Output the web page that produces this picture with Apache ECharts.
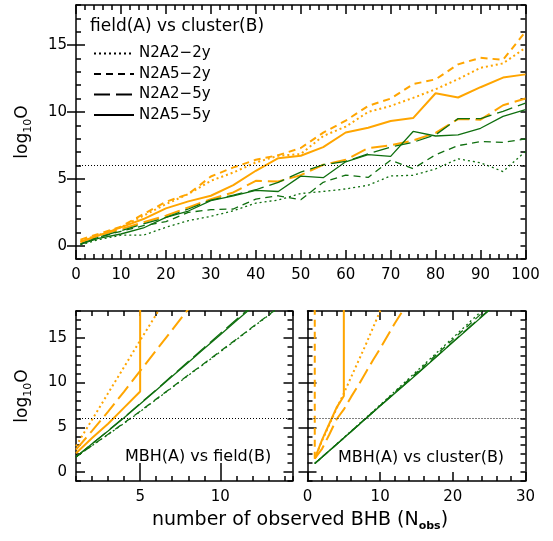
<!DOCTYPE html>
<html lang="en">
<head>
  <meta charset="UTF-8">
  <title>log10 O vs number of observed BHB</title>
  <script src="https://cdn.jsdelivr.net/npm/echarts@6/dist/echarts.min.js"></script>
  <style>html,body{margin:0;padding:0;background:#fff}</style>
</head>
<body>
  <div id="main" style="width:553px;height:541px"></div>
  <script>
    // ---- data ----
    // top panel: field(A) vs cluster(B)
    var fcX = [1,5,10,15,20,25,30,35,40,45,50,55,60,65,70,75,80,85,90,95,100];
    var fcOrange_N2A2_2y = [0.37,0.8,1.37,2.24,3.1,3.86,4.85,5.47,6.22,6.72,6.85,8.2,8.9,10.0,10.45,11.05,11.7,12.45,13.3,13.63,14.8];
    var fcOrange_N2A5_2y = [0.45,0.87,1.42,2.36,3.28,3.86,5.17,5.85,6.42,6.77,7.3,8.45,9.35,10.45,11.0,12.08,12.44,13.56,14.05,13.9,16.0];
    var fcOrange_N2A2_5y = [0.3,0.75,1.24,1.74,2.24,2.86,3.48,3.98,4.85,4.8,5.27,6.05,6.42,7.3,7.5,7.87,8.43,9.47,9.42,10.5,11.0];
    var fcOrange_N2A5_5y = [0.25,0.75,1.37,1.99,2.79,3.31,3.73,4.53,5.6,6.54,6.72,7.37,8.46,8.82,9.32,9.54,11.4,11.08,11.85,12.57,12.81];
    var fcGreen_N2A2_2y = [0.05,0.45,0.78,0.78,1.37,1.87,2.19,2.61,3.18,3.41,3.9,4.05,4.24,4.52,5.21,5.26,5.74,6.49,6.2,5.54,7.05];
    var fcGreen_N2A5_2y = [0.12,0.62,1.07,1.49,1.79,2.49,2.69,2.74,3.48,3.73,3.43,4.74,5.28,5.1,6.4,5.76,6.8,7.48,7.78,7.73,7.98];
    var fcGreen_N2A2_5y = [0.12,0.62,1.12,1.62,2.11,2.74,3.41,3.78,4.18,4.73,5.5,6.05,6.3,6.87,7.37,7.73,8.29,9.5,9.5,10.05,10.66];
    var fcGreen_N2A5_5y = [0.12,0.55,0.87,1.32,2.11,2.59,3.36,3.73,4.13,4.05,5.2,5.08,6.27,6.81,6.68,8.54,8.2,8.28,8.78,9.67,10.17];

    // bottom left: MBH(A) vs field(B)
    var mfX = [1,2,3,4,5,6,7,8,9,10,11,12,13,14];
    var mfJumpX = [1,2,3,4,5,5];
    var mfOrange_N2A2_2y = [2.9,5.85,8.8,11.75,14.7,17.6,20.6];
    var mfOrange_N2A2_5y = [2.5,4.6,6.75,9.0,11.3,13.6,15.9,18.2];
    var mfOrange_N2A5_5y = [2.1,3.8,5.4,7.2,9.0,19];
    var mfGreen_N2A2_2y = [1.69,2.95,4.2,5.45,6.75,8.1,9.45,10.8,12.1,13.45,14.8,16.15,17.5,18.85];
    var mfGreen_N2A5_2y = [1.69,2.97,4.22,5.5,6.8,8.15,9.5,10.85,12.15,13.5,14.85,16.2,17.55,18.9];
    var mfGreen_N2A2_5y = [1.69,3.15,4.62,6.12,7.65,9.2,10.78,12.35,13.92,15.5,17.05,18.6];
    var mfGreen_N2A5_5y = [1.69,3.15,4.6,6.08,7.6,9.15,10.7,12.25,13.8,15.35,16.9,18.45];

    // bottom right: MBH(A) vs cluster(B)
    var mcX = [1,5,10,15,20,25];
    var mcOX = [1,2,3,4,5,6,7,8,9,10,11,12,13,14];
    var mcJumpX = [1,2,3,4,5,5];
    var mcWallX = [1,1];
    var mcOrange_N2A2_2y = [1.5,3.5,5.3,7.1,8.8,10.6,12.4,14.2,16.1,18.0,19.8];
    var mcOrange_N2A5_2y = [1.5,19];
    var mcOrange_N2A2_5y = [1.5,2.6,4.2,5.9,7.0,8.4,9.7,11.1,12.5,13.8,15.2,16.6,17.9,19.3];
    var mcOrange_N2A5_5y = [1.5,3.6,5.4,7.2,8.5,19];
    var mcGreen_N2A2_2y = [0.95,3.85,7.5,11.25,15.0,18.8];
    var mcGreen_N2A5_2y = [0.95,3.82,7.45,11.1,14.8,18.5];
    var mcGreen_N2A2_5y = [0.95,3.8,7.4,10.95,14.55,18.15];
    var mcGreen_N2A5_5y = [0.95,3.8,7.37,10.9,14.5,18.07];

    var threshold = 6;
    var yMajor = [0,5,10,15];
    var legendNames = ['N2A2\u22122y','N2A5\u22122y','N2A2\u22125y','N2A5\u22125y'];

    // ---- styles ----
    var FONT = 'DejaVu Sans';
    var ORANGE = '#ffa500', GREEN = '#0f6f0f';
    var dash = { '2_2': [2,3], '5_2': [7,5], '2_5': [16,6], '5_5': 'solid' };
    var frame = { color: '#000', width: 1.5 };

    function zip(xs, ys) { return ys.map(function (y, i) { return [xs[i], y]; }); }

    var xAxes = [], yAxes = [];
    // main axis with labels + mirror axis, minorTick for the nice ones
    function niceX(g, min, max, interval) {
      var base = { gridIndex: g, type: 'value', min: min, max: max, interval: interval,
        axisLine: { show: true, onZero: false, lineStyle: frame },
        axisTick: { show: true, inside: true, length: 9, lineStyle: frame },
        minorTick: { show: true, splitNumber: 5, length: 5, lineStyle: frame },
        splitLine: { show: false } };
      xAxes.push(Object.assign({}, base, { position: 'bottom',
        axisLabel: { fontSize: 15, color: '#000', margin: 9, fontFamily: FONT } }));
      var idx = xAxes.length - 1;
      xAxes.push(Object.assign({}, base, { position: 'top', axisLabel: { show: false } }));
      return idx;
    }
    // axis whose min is not on the major grid: unit ticks + custom major ticks
    function stepAxes(list, g, min, max, major, sides, labelSide, extra) {
      var idx = -1;
      sides.forEach(function (side) {
        var minor = { gridIndex: g, type: 'value', min: min, max: max, interval: 1, position: side,
          axisLine: { show: true, onZero: false, lineStyle: frame },
          axisTick: { show: true, inside: true, length: 5, lineStyle: frame },
          axisLabel: { show: false },
          splitLine: { show: false } };
        if (side === labelSide) {
          minor.axisLabel = { show: true, fontSize: 15, color: '#000', margin: 9, fontFamily: FONT,
            formatter: function (v) { return major.indexOf(v) >= 0 ? String(v) : ''; } };
          Object.assign(minor, extra || {});
        }
        if (idx < 0) idx = list.length;
        list.push(minor);
        list.push({ gridIndex: g, type: 'value', min: min, max: max, position: side,
          axisLine: { show: false }, axisLabel: { show: false }, splitLine: { show: false },
          axisTick: { show: true, inside: true, length: 9, lineStyle: frame, customValues: major } });
      });
      return idx;
    }

    var yName = {
      name: '{a|log}{s|10}{a|O}', nameLocation: 'middle', nameGap: 42, nameRotate: 90,
      nameTextStyle: { rich: {
        a: { fontSize: 17, fontFamily: FONT, color: '#000', lineHeight: 22 },
        s: { fontSize: 11, fontFamily: FONT, color: '#000', lineHeight: 12, verticalAlign: 'bottom' } } }
    };

    var x0 = niceX(0, 0, 100, 10);
    var x1 = stepAxes(xAxes, 1, 1, 14.5, [5,10], ['bottom','top'], 'bottom');
    var x2 = niceX(2, 0, 30, 10);
    var y0 = stepAxes(yAxes, 0, -1, 18, yMajor, ['left','right'], 'left', yName);
    var y1 = stepAxes(yAxes, 1, -1, 18, yMajor, ['left','right'], 'left', yName);
    var y2 = stepAxes(yAxes, 2, -1, 18, yMajor, ['left','right'], 'none');

    var series = [];
    function addLine(name, xi, yi, xs, ys, color, key, width) {
      series.push({ name: name, type: 'line', xAxisIndex: xi, yAxisIndex: yi,
        data: zip(xs, ys), symbol: 'none', silent: true, animation: false,
        lineStyle: { color: color, width: width, type: dash[key], cap: 'butt' } });
      return series[series.length - 1];
    }
    function addThreshold(s) {
      s.markLine = { silent: true, symbol: 'none', label: { show: false }, animation: false,
        lineStyle: { color: '#000', type: [1,2], width: 1 }, data: [{ yAxis: threshold }] };
    }

    // top
    addThreshold(addLine('fc o 2_2', x0, y0, fcX, fcOrange_N2A2_2y, ORANGE, '2_2', 2));
    addLine('fc o 5_2', x0, y0, fcX, fcOrange_N2A5_2y, ORANGE, '5_2', 2);
    addLine('fc o 2_5', x0, y0, fcX, fcOrange_N2A2_5y, ORANGE, '2_5', 2);
    addLine('fc o 5_5', x0, y0, fcX, fcOrange_N2A5_5y, ORANGE, '5_5', 2);
    addLine('fc g 2_2', x0, y0, fcX, fcGreen_N2A2_2y, GREEN, '2_2', 1.3);
    addLine('fc g 5_2', x0, y0, fcX, fcGreen_N2A5_2y, GREEN, '5_2', 1.3);
    addLine('fc g 2_5', x0, y0, fcX, fcGreen_N2A2_5y, GREEN, '2_5', 1.3);
    addLine('fc g 5_5', x0, y0, fcX, fcGreen_N2A5_5y, GREEN, '5_5', 1.3);

    // bottom left
    addThreshold(addLine('mf o 2_2', x1, y1, mfX, mfOrange_N2A2_2y, ORANGE, '2_2', 2));
    addLine('mf o 2_5', x1, y1, mfX, mfOrange_N2A2_5y, ORANGE, '2_5', 2);
    addLine('mf o 5_5', x1, y1, mfJumpX, mfOrange_N2A5_5y, ORANGE, '5_5', 2);
    addLine('mf g 2_2', x1, y1, mfX, mfGreen_N2A2_2y, GREEN, '2_2', 1.3);
    addLine('mf g 5_2', x1, y1, mfX, mfGreen_N2A5_2y, GREEN, '5_2', 1.3);
    addLine('mf g 2_5', x1, y1, mfX, mfGreen_N2A2_5y, GREEN, '2_5', 1.3);
    addLine('mf g 5_5', x1, y1, mfX, mfGreen_N2A5_5y, GREEN, '5_5', 1.3);

    // bottom right
    addThreshold(addLine('mc o 2_2', x2, y2, mcOX, mcOrange_N2A2_2y, ORANGE, '2_2', 2));
    addLine('mc o 5_2', x2, y2, mcWallX, mcOrange_N2A5_2y, ORANGE, '5_2', 2);
    addLine('mc o 2_5', x2, y2, mcOX, mcOrange_N2A2_5y, ORANGE, '2_5', 2);
    addLine('mc o 5_5', x2, y2, mcJumpX, mcOrange_N2A5_5y, ORANGE, '5_5', 2);
    addLine('mc g 2_2', x2, y2, mcX, mcGreen_N2A2_2y, GREEN, '2_2', 1.3);
    addLine('mc g 5_2', x2, y2, mcX, mcGreen_N2A5_2y, GREEN, '5_2', 1.3);
    addLine('mc g 2_5', x2, y2, mcX, mcGreen_N2A2_5y, GREEN, '2_5', 1.3);
    addLine('mc g 5_5', x2, y2, mcX, mcGreen_N2A5_5y, GREEN, '5_5', 1.3);

    // black legend samples (no data)
    ['2_2','5_2','2_5','5_5'].forEach(function (k, i) {
      series.push({ name: legendNames[i], type: 'line', xAxisIndex: x0, yAxisIndex: y0, data: [],
        symbol: 'none', lineStyle: { color: '#000', width: 1.2, type: dash[k] }, itemStyle: { color: '#000' } });
    });

    var myChart = echarts.init(document.getElementById('main'));
    myChart.setOption({
      animation: false,
      backgroundColor: '#fff',
      textStyle: { fontFamily: FONT },
      grid: [
        { left: 76, top: 5, width: 449.5, height: 254 },
        { left: 76, top: 311, width: 216.5, height: 170 },
        { left: 307.5, top: 311, width: 218, height: 170 }
      ],
      xAxis: xAxes,
      yAxis: yAxes,
      legend: {
        data: legendNames, selectedMode: false, orient: 'vertical', left: 93, top: 46,
        padding: 0, itemWidth: 40, itemHeight: 12, itemGap: 5.5, itemTextGap: 10,
        itemStyle: { color: 'rgba(0,0,0,0)', borderColor: 'rgba(0,0,0,0)', borderWidth: 0 },
        textStyle: { fontSize: 15, color: '#000', fontFamily: FONT }
      },
      graphic: [
        { type: 'text', left: 90, top: 18, style: { text: 'field(A) vs cluster(B)', fill: '#000',
          font: '17px "DejaVu Sans"' } },
        { type: 'text', left: 125, top: 449, style: { text: 'MBH(A) vs field(B)', fill: '#000',
          font: '16px "DejaVu Sans"' } },
        { type: 'text', left: 338, top: 450, style: { text: 'MBH(A) vs cluster(B)', fill: '#000',
          font: '16px "DejaVu Sans"' } },
        { type: 'text', left: 152, top: 511, style: {
          text: '{a|number of observed BHB (N}{s|obs}{a|)}',
          rich: {
            a: { fontSize: 19, fontFamily: FONT, fill: '#000', lineHeight: 23 },
            s: { fontSize: 11, fontFamily: FONT, fontWeight: 'bold', fill: '#000', lineHeight: 12, verticalAlign: 'bottom' }
          } } }
      ],
      series: series
    });
  </script>
</body>
</html>
